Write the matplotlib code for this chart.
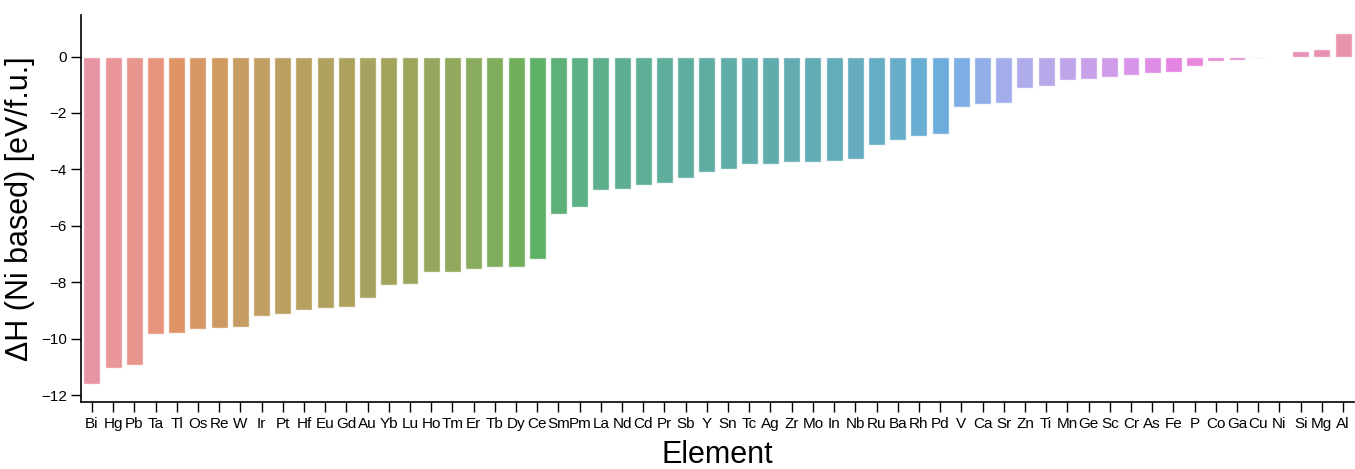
import matplotlib
matplotlib.use("Agg")
import matplotlib.pyplot as plt
import numpy as np
import pandas as pd
import seaborn as sns

elements = ["Bi", "Hg", "Pb", "Ta", "Tl", "Os", "Re", "W", "Ir", "Pt",
            "Hf", "Eu", "Gd", "Au", "Yb", "Lu", "Ho", "Tm", "Er", "Tb",
            "Dy", "Ce", "Sm", "Pm", "La", "Nd", "Cd", "Pr", "Sb", "Y",
            "Sn", "Tc", "Ag", "Zr", "Mo", "In", "Nb", "Ru", "Ba", "Rh",
            "Pd", "V", "Ca", "Sr", "Zn", "Ti", "Mn", "Ge", "Sc", "Cr",
            "As", "Fe", "P", "Co", "Ga", "Cu", "Ni", "Si", "Mg", "Al"]

delta_h = [-11.62, -11.04, -10.94, -9.84, -9.80, -9.67, -9.62, -9.59, -9.18, -9.12,
           -8.98, -8.92, -8.87, -8.57, -8.11, -8.07, -7.65, -7.62, -7.54, -7.47,
           -7.46, -7.17, -5.57, -5.34, -4.74, -4.69, -4.55, -4.49, -4.29, -4.10,
           -3.98, -3.82, -3.81, -3.72, -3.72, -3.71, -3.63, -3.14, -2.95, -2.81,
           -2.73, -1.79, -1.69, -1.65, -1.10, -1.06, -0.83, -0.78, -0.73, -0.66,
           -0.60, -0.55, -0.33, -0.15, -0.11, -0.04, 0.0, 0.19, 0.27, 0.85]

df = pd.DataFrame({"Element": elements, "dH": delta_h})

sns.set_style("ticks")
plt.rcParams["font.family"] = ["Liberation Sans", "DejaVu Sans"]
plt.rcParams["text.color"] = "black"
plt.rcParams["axes.labelcolor"] = "black"
plt.rcParams["xtick.color"] = "black"
plt.rcParams["ytick.color"] = "black"
plt.rcParams["axes.edgecolor"] = "black"

fig, ax = plt.subplots(figsize=(13.55, 4.69), dpi=100)
plt.subplots_adjust(left=0.06, right=0.999, bottom=0.143, top=0.968)

sns.barplot(data=df, x="Element", y="dH", hue="Element",
            palette=sns.color_palette("husl", len(elements)),
            saturation=0.75, alpha=0.85, legend=False, ax=ax)

ax.set_xlabel("Element", fontsize=22, labelpad=7)
ax.set_ylabel("ΔH (Ni based) [eV/f.u.]", fontsize=22)
ax.set_yticks([0, -2, -4, -6, -8, -10, -12])
ax.set_yticklabels(["0", "−2", "−4", "−6", "−8", "−10", "−12"])
ax.tick_params(axis="both", labelsize=11, length=7, width=1, direction="out")
for s in ax.spines.values():
    s.set_linewidth(1.2)
sns.despine(ax=ax)

plt.savefig("out.png", dpi=100)
